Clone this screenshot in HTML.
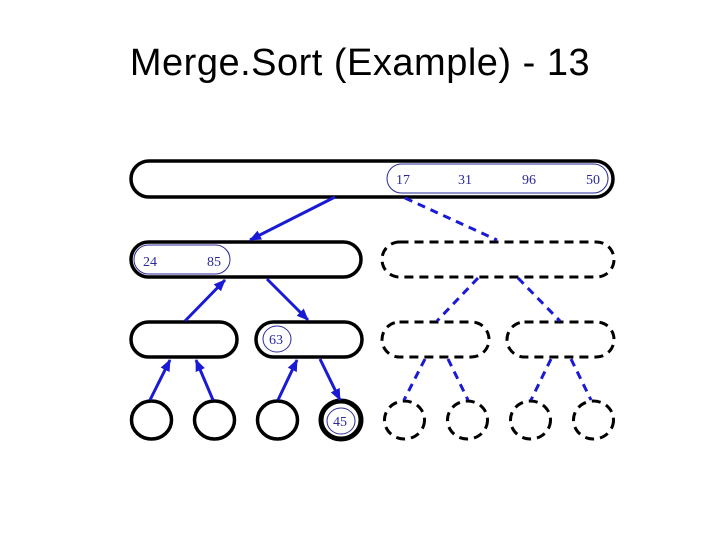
<!DOCTYPE html>
<html><head><style>
body{margin:0;width:720px;height:540px;background:#fff;overflow:hidden}
.t{position:absolute;top:42px;left:0;width:720px;text-align:center;font-family:"Liberation Sans",sans-serif;font-size:38px;letter-spacing:0.5px;color:#000}
svg{position:absolute;left:0;top:0}
</style></head><body>
<div class="t">Merge.Sort (Example) - 13</div>
<svg width="720" height="540" viewBox="0 0 720 540">
<defs>
<marker id="a" markerWidth="12" markerHeight="12" refX="11" refY="6" orient="auto" markerUnits="userSpaceOnUse" viewBox="0 0 12 12"><path d="M0,1 L12,6 L0,11 Z" fill="#1a1ad6"/></marker>
</defs>
<g fill="none" stroke="#000" stroke-width="3.5">
<rect x="131" y="161" width="482" height="36" rx="18"/>
<rect x="131" y="242" width="230" height="35" rx="17.5"/>
<rect x="131" y="322" width="106" height="35" rx="17.5"/>
<rect x="256" y="322" width="106" height="35" rx="17.5"/>
<ellipse cx="151.5" cy="420" rx="20" ry="19"/>
<ellipse cx="214.5" cy="420" rx="20" ry="19"/>
<ellipse cx="277.5" cy="420" rx="20" ry="19"/>
<ellipse cx="341" cy="420" rx="20" ry="19" stroke-width="5"/>
</g>
<g fill="none" stroke="#000" stroke-width="3" stroke-dasharray="9,6">
<rect x="382" y="242" width="232" height="35" rx="17.5"/>
<rect x="382" y="322" width="107" height="35" rx="17.5"/>
<rect x="507" y="322" width="107" height="35" rx="17.5"/>
<ellipse cx="404.5" cy="420" rx="20" ry="19"/>
<ellipse cx="467.5" cy="420" rx="20" ry="19"/>
<ellipse cx="530.5" cy="420" rx="20" ry="19"/>
<ellipse cx="593.5" cy="420" rx="20" ry="19"/>
</g>
<g fill="none" stroke="#2a2a9a" stroke-width="1">
<rect x="387" y="164" width="221" height="29" rx="14.5"/>
<rect x="134" y="245" width="96" height="29" rx="14.5"/>
<ellipse cx="277" cy="339" rx="14" ry="13"/>
<ellipse cx="341" cy="421" rx="14" ry="13"/>
</g>
<g font-family="Liberation Serif,serif" font-size="14" fill="#2a2a9a">
<text x="396" y="184">17</text><text x="458" y="184">31</text><text x="522" y="184">96</text><text x="586" y="184">50</text>
<text x="143" y="266">24</text><text x="207" y="266">85</text>
<text x="269" y="344">63</text><text x="333" y="426">45</text>
</g>
<g stroke="#1a1ad6" stroke-width="3" marker-end="url(#a)">
<line x1="335" y1="197" x2="250" y2="240"/>
<line x1="185" y1="321" x2="225" y2="280"/>
<line x1="267" y1="279" x2="308" y2="320"/>
<line x1="150" y1="400" x2="170" y2="360"/>
<line x1="213" y1="400" x2="196" y2="360"/>
<line x1="278" y1="400" x2="297" y2="360"/>
<line x1="320" y1="359" x2="340" y2="400"/>
</g>
<g stroke="#1a1ad6" stroke-width="3" stroke-dasharray="8,6">
<line x1="405" y1="198" x2="497" y2="240"/>
<line x1="478" y1="278" x2="437" y2="321"/>
<line x1="518" y1="278" x2="560" y2="321"/>
<line x1="425" y1="359" x2="404" y2="400"/>
<line x1="448" y1="359" x2="468" y2="400"/>
<line x1="551" y1="359" x2="531" y2="400"/>
<line x1="571" y1="359" x2="591" y2="400"/>
</g>
</svg>
</body></html>
